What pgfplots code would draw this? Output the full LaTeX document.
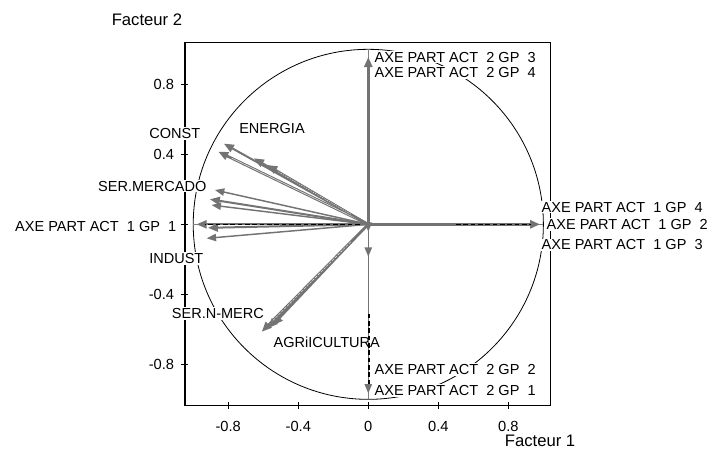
\documentclass[border=0pt]{standalone}
\usepackage{fontspec}
\setmainfont{Liberation Sans}
\usepackage{pgfplots}
\pgfplotsset{compat=1.18}
\usetikzlibrary{arrows.meta}
\begin{document}
\begin{tikzpicture}[
  arr/.style={-{Triangle[length=7.5pt,width=6pt]}, color=black!55, line width=1.5pt},
  arrthin/.style={-{Triangle[length=7pt,width=5.5pt]}, color=black!55, line width=1.1pt},
  dsh/.style={black, line width=0.8pt, dash pattern=on 3.5pt off 2pt},
  lab/.style={fill=white, inner sep=1pt, font=\fontsize{10.9}{12}\selectfont}]
\begin{axis}[
  name=ax, at={(0,0)}, anchor=south west,
  scale only axis, width=274.3pt, height=272.1pt,
  xmin=-1.047, xmax=1.042, ymin=-1.035, ymax=1.038,
  clip=false,
  xtick={-0.8,-0.4,0,0.4,0.8}, xticklabels={-0.8,-0.4,0,0.4,0.8},
  ytick={-0.8,-0.4,0,0.4,0.8}, yticklabels={-0.8,-0.4,,0.4,0.8},
  tick align=center, major tick length=5.25pt, tick pos=left,
  axis line style={line width=0.9pt},
  tick style={line width=0.8pt, black},
  ticklabel style={font=\fontsize{11}{13}\selectfont},
  yticklabel style={xshift=-2pt},
  xticklabel style={yshift=-6pt},
]
% reference circle and axes through origin
\draw[black, line width=0.6pt] (axis cs:0,0) ellipse [x radius=1, y radius=1];
\addplot[black!50, line width=0.6pt] coordinates {(-1,0) (1,0)};
\addplot[black!50, line width=0.6pt] coordinates {(0,-1) (0,1)};

% labels
\node[lab, anchor=west] at (axis cs:0.027,0.956) {AXE PART ACT\ \ 2 GP\ \ 3};
\node[lab, anchor=west] at (axis cs:0.027,0.865) {AXE PART ACT\ \ 2 GP\ \ 4};
\node[lab, anchor=west] at (axis cs:0.027,-0.832) {AXE PART ACT\ \ 2 GP\ \ 2};
\node[lab, anchor=west] at (axis cs:0.027,-0.947) {AXE PART ACT\ \ 2 GP\ \ 1};
\node[lab, anchor=west] at (axis cs:0.981,0.099) {AXE PART ACT\ \ 1 GP\ \ 4};
\node[lab, anchor=west] at (axis cs:1.01,0) {AXE PART ACT\ \ 1 GP\ \ 2};
\node[lab, anchor=west] at (axis cs:0.981,-0.118) {AXE PART ACT\ \ 1 GP\ \ 3};
\node[lab, anchor=east] at (axis cs:-1.088,-0.01) {AXE PART ACT\ \ 1 GP\ \ 1};
\node[lab, anchor=east] at (axis cs:-0.951,0.521) {CONST};
\node[lab] at (axis cs:-0.55,0.55) {ENERGIA};
\node[lab, anchor=east] at (axis cs:-0.916,0.219) {SER.MERCADO};
\node[lab, anchor=east] at (axis cs:-0.933,-0.193) {INDUST};
\node[lab] at (axis cs:-0.859,-0.507) {SER.N-MERC};
\node[lab, anchor=west] at (axis cs:-0.55,-0.673) {AGRiICULTURA};

% arrows
\addplot[arr] coordinates {(0,0) (-0.825,0.461)};
\addplot[arr, line width=2pt] coordinates {(0,0) (-0.857,0.415)};
\addplot[white, line width=0.3pt] coordinates {(-0.06,0.029) (-0.78,0.378)};
\addplot[arr] coordinates {(0,0) (-0.653,0.377)};
\addplot[arr] coordinates {(0,0) (-0.577,0.339)};
\addplot[white, line width=0.3pt, dash pattern=on 1pt off 1pt] coordinates {(-0.1,0.058) (-0.52,0.303)};
\addplot[arrthin] coordinates {(0,0) (-0.876,0.196)};
\addplot[arr] coordinates {(0,0) (-0.905,0.143)};
\addplot[arrthin] coordinates {(0,0) (-0.895,0.110)};
\addplot[arr] coordinates {(0,0) (-0.916,-0.02)};
\addplot[arrthin] coordinates {(0,0) (-0.923,-0.08)};
\addplot[arr] coordinates {(0,0) (-0.981,0)};
\addplot[dsh] coordinates {(-0.05,0) (-0.93,0)};
\addplot[arr, line width=2pt] coordinates {(0,0) (-0.609,-0.614)};
\addplot[arr] coordinates {(0,0) (-0.573,-0.593)};
\addplot[arr] coordinates {(0,0) (-0.545,-0.576)};
\addplot[white, line width=0.3pt, dash pattern=on 2pt off 1pt] coordinates {(-0.1,-0.1) (-0.55,-0.555)};
\addplot[arr, line width=2pt] coordinates {(0,0) (0.981,0)};
\addplot[dsh] coordinates {(0.5,0) (0.93,0)};
\addplot[arr, line width=2pt] coordinates {(0,0) (0,0.956)};
\addplot[arrthin] coordinates {(0,0) (0,-0.042)};
\addplot[arrthin] coordinates {(0,0) (0,-0.185)};
\addplot[black!55, line width=1.1pt] coordinates {(0,0) (0,-0.51)};
\addplot[arrthin] coordinates {(0,-0.51) (0,-0.966)};
\addplot[dsh] coordinates {(0.004,-0.51) (0.004,-0.92)};
\end{axis}
\node[font=\fontsize{12.5}{14}\selectfont] at (-28.5pt,289.1pt) {Facteur 2};
\node[font=\fontsize{12.5}{14}\selectfont] at (266.3pt,-26.6pt) {Facteur 1};
\pgfresetboundingbox
\path[use as bounding box] (-138.75pt,-38.6pt) rectangle (399.75pt,304.1pt);
\end{tikzpicture}
\end{document}
